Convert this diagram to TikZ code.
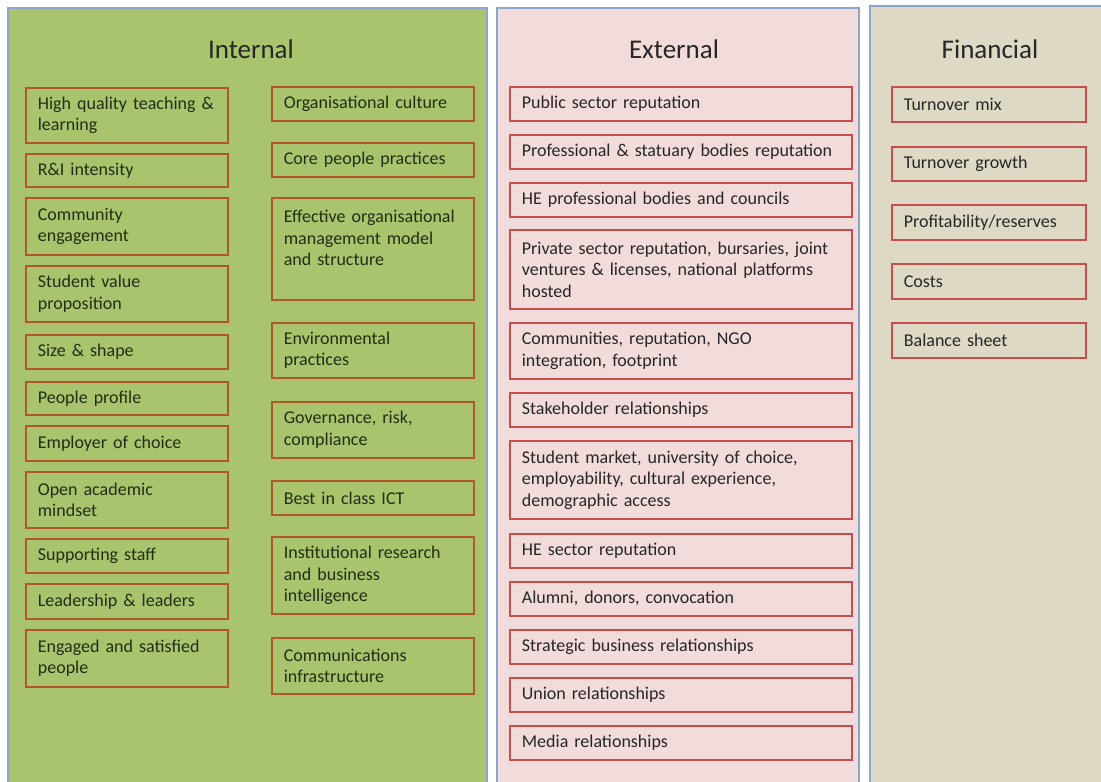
\documentclass[tikz,border=0pt]{standalone}
\usepackage{fontspec}
\setmainfont{Carlito}
\definecolor{intgreen}{RGB}{169,196,108}
\definecolor{extpink}{RGB}{242,220,219}
\definecolor{fintan}{RGB}{221,217,196}
\definecolor{intedge}{RGB}{175,88,38}
\definecolor{extedge}{RGB}{200,78,76}
\definecolor{paneledge}{RGB}{140,165,200}
\definecolor{txt}{RGB}{38,38,38}
\definecolor{itxt}{RGB}{35,45,20}
\tikzset{
  panel/.style={draw=paneledge, line width=1.3pt},
  title/.style={anchor=base, text=txt, font=\fontsize{27}{32}\selectfont},
  boxbase/.style={draw, rectangle, line width=1.7pt, align=left, anchor=north west,
    inner xsep=12pt, inner ysep=0pt, text=txt, font=\fontsize{18}{21.5}\selectfont},
  ibox/.style={boxbase, draw=intedge, fill=intgreen, text=itxt, text width=178pt},
  ebox/.style={boxbase, draw=extedge, fill=extpink, text width=318pt},
  fbox/.style={boxbase, draw=extedge, fill=fintan, text width=170pt}
}
\begin{document}
\begin{tikzpicture}[x=1pt,y=-1pt]
\useasboundingbox (0,0) rectangle (1101,782);
\fill[white] (0,0) rectangle (1101,782);
\begin{scope}
\clip (0,0) rectangle (1101,782);
\filldraw[panel, fill=intgreen] (8,8) rectangle (487,800);
\filldraw[panel, fill=extpink] (497,8) rectangle (859,800);
\filldraw[panel, fill=fintan] (870,6) rectangle (1120,800);
\end{scope}
\node[title] (tint) at (251,58) {Internal};
\node[title] (text) at (674,58) {External};
\node[title] (tfin) at (990,58) {Financial};
% Internal left column
\node[ibox, minimum height=55] (i1) at (25,87) {\mbox{High quality teaching \&}\\\mbox{learning}};
\node[ibox, minimum height=33] (i2) at (25,153) {\mbox{R\&I intensity}};
\node[ibox, minimum height=57] (i3) at (25,197) {\mbox{Community}\\\mbox{engagement}};
\node[ibox, minimum height=56] (i4) at (25,265) {\mbox{Student value}\\\mbox{proposition}};
\node[ibox, minimum height=34] (i5) at (25,334) {\mbox{Size \& shape}};
\node[ibox, minimum height=33] (i6) at (25,381) {\mbox{People profile}};
\node[ibox, minimum height=35] (i7) at (25,425) {\mbox{Employer of choice}};
\node[ibox, minimum height=56] (i8) at (25,471) {\mbox{Open academic}\\\mbox{mindset}};
\node[ibox, minimum height=34] (i9) at (25,538) {\mbox{Supporting staff}};
\node[ibox, minimum height=35] (i10) at (25,583) {\mbox{Leadership \& leaders}};
\node[ibox, minimum height=57] (i11) at (25,629) {\mbox{Engaged and satisfied}\\\mbox{people}};
% Internal right column
\node[ibox, minimum height=34] (j1) at (271,86) {\mbox{Organisational culture}};
\node[ibox, minimum height=34] (j2) at (271,142) {\mbox{Core people practices}};
\node[ibox, minimum height=102] (j3) at (271,197) {\mbox{Effective organisational}\\\mbox{management model}\\\mbox{and structure}\\\mbox{}};
\node[ibox, minimum height=55] (j4) at (271,322) {\mbox{Environmental}\\\mbox{practices}};
\node[ibox, minimum height=56] (j5) at (271,401) {\mbox{Governance, risk,}\\\mbox{compliance}};
\node[ibox, minimum height=34] (j6) at (271,480) {\mbox{Best in class ICT}};
\node[ibox, minimum height=77] (j7) at (271,536) {\mbox{Institutional research}\\\mbox{and business}\\\mbox{intelligence}};
\node[ibox, minimum height=56] (j8) at (271,637) {\mbox{Communications}\\\mbox{infrastructure}};
% External
\node[ebox, minimum height=34] (e1) at (509,86) {\mbox{Public sector reputation}};
\node[ebox, minimum height=34] (e2) at (509,134) {\mbox{Professional \& statuary bodies reputation}};
\node[ebox, minimum height=34] (e3) at (509,182) {\mbox{HE professional bodies and councils}};
\node[ebox, minimum height=79] (e4) at (509,229) {\mbox{Private sector reputation, bursaries, joint}\\\mbox{ventures \& licenses, national platforms}\\\mbox{hosted}};
\node[ebox, minimum height=56] (e5) at (509,322) {\mbox{Communities, reputation, NGO}\\\mbox{integration, footprint}};
\node[ebox, minimum height=34] (e6) at (509,392) {\mbox{Stakeholder relationships}};
\node[ebox, minimum height=78] (e7) at (509,440) {\mbox{Student market, university of choice,}\\\mbox{employability, cultural experience,}\\\mbox{demographic access}};
\node[ebox, minimum height=34] (e8) at (509,533) {\mbox{HE sector reputation}};
\node[ebox, minimum height=34] (e9) at (509,581) {\mbox{Alumni, donors, convocation}};
\node[ebox, minimum height=34] (e10) at (509,629) {\mbox{Strategic business relationships}};
\node[ebox, minimum height=34] (e11) at (509,677) {\mbox{Union relationships}};
\node[ebox, minimum height=34] (e12) at (509,725) {\mbox{Media relationships}};
% Financial
\node[fbox, minimum height=35] (f1) at (891,86) {\mbox{Turnover mix}};
\node[fbox, minimum height=34] (f2) at (891,146) {\mbox{Turnover growth}};
\node[fbox, minimum height=35] (f3) at (891,204) {\mbox{Profitability/reserves}};
\node[fbox, minimum height=35] (f4) at (891,263) {\mbox{Costs}};
\node[fbox, minimum height=35] (f5) at (891,322) {\mbox{Balance sheet}};
\end{tikzpicture}
\end{document}
